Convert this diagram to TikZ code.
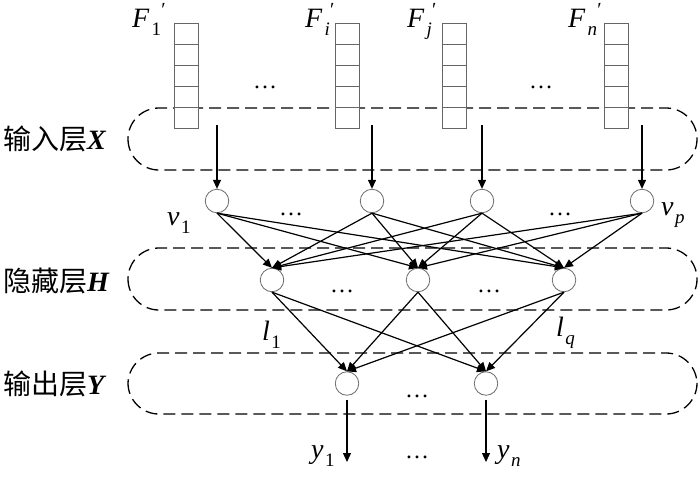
\documentclass[tikz,border=0pt]{standalone}
\usepackage{fontspec}
\setmainfont{Liberation Serif}
\newfontfamily\cjk{Noto Sans CJK SC}
\usetikzlibrary{arrows.meta}
\newcommand{\mylbl}[2]{\textit{#1}\hspace{1.5pt}\raisebox{-8pt}{\fontsize{19}{19}\selectfont #2}}
\newcommand{\myfp}[1]{\textit{F}\hspace{2pt}\raisebox{-8pt}{\fontsize{19}{19}\selectfont #1}\hspace{-1pt}\raisebox{11pt}{\fontsize{20}{20}\selectfont\textit{′}}}
\begin{document}
\begin{tikzpicture}[x=1pt,y=-1pt,
  neuron/.style={circle,draw=gray!85!black,line width=0.8pt,fill=white,minimum size=23.5pt,inner sep=0pt},
  conn/.style={line width=1.2pt,-{Triangle[length=9pt,width=8pt]}},
  layerbox/.style={draw=black,line width=1.3pt,dash pattern=on 12pt off 6pt,rounded corners=31pt},
  cell/.style={draw=gray!80!black,line width=0.8pt,fill=white},
  lab/.style={font=\fontsize{28}{32}\selectfont,inner sep=0pt},
  dotlab/.style={font=\fontsize{24}{28}\selectfont,inner sep=0pt,anchor=base}
  ]
\useasboundingbox (0,0) rectangle (700,477);

% layer boxes
\draw[layerbox] (128,108) rectangle (697,170);
\draw[layerbox] (128,248) rectangle (697,310);
\draw[layerbox] (128,353) rectangle (697,414);

% feature columns
\foreach \cx in {174,335,442,604}{
  \foreach \k in {0,...,4}{
    \draw[cell] (\cx,23+21*\k) rectangle (\cx+24,23+21*\k+21);
  }
}

% feature labels
\node[lab,anchor=base west] (f1) at (132,27) {\myfp{1}};
\node[lab,anchor=base west] (fi) at (305,27) {\myfp{\textit{i}}};
\node[lab,anchor=base west] (fj) at (407,27) {\myfp{\textit{j}}};
\node[lab,anchor=base west] (fn) at (568,27) {\myfp{\textit{n}}};

% layer labels
\node[lab,anchor=west] (lx) at (3,139) {{\cjk 输入层}\textbf{\textit{X}}};
\node[lab,anchor=west] (lh) at (3,281) {{\cjk 隐藏层}\textbf{\textit{H}}};
\node[lab,anchor=west] (ly) at (3,384) {{\cjk 输出层}\textbf{\textit{Y}}};

% dots
\node[dotlab] (d1) at (265,88) {…};
\node[dotlab] (d2) at (541,88) {…};
\node[dotlab] (d3) at (291,215) {…};
\node[dotlab] (d4) at (560,215) {…};
\node[dotlab] (d5) at (342,292) {…};
\node[dotlab] (d6) at (489,292) {…};
\node[dotlab] (d7) at (417,397) {…};
\node[dotlab] (d8) at (417,458) {…};

% neurons
\node[neuron] (v1) at (217,201) {};
\node[neuron] (v2) at (372,201) {};
\node[neuron] (v3) at (482,201) {};
\node[neuron] (v4) at (642,201) {};
\node[neuron] (h1) at (272,280) {};
\node[neuron] (h2) at (418,280) {};
\node[neuron] (h3) at (564,280) {};
\node[neuron] (o1) at (347,383.5) {};
\node[neuron] (o2) at (486,383.5) {};

% neuron labels
\node[lab,anchor=base west] (lv1) at (167,225) {\mylbl{v}{1}};
\node[lab,anchor=base west] (lvp) at (661,215) {\mylbl{v}{\textit{p}}};
\node[lab,anchor=base west] (ll1) at (262,340) {\mylbl{l}{1}};
\node[lab,anchor=base west] (llq) at (556,336) {\mylbl{l}{\textit{q}}};
\node[lab,anchor=base west] (ly1) at (311,458) {\mylbl{y}{1}};
\node[lab,anchor=base west] (lyn) at (497,458) {\mylbl{y}{\textit{n}}};

% input arrows
\coordinate (a1) at (217,125);
\coordinate (a2) at (372,125);
\coordinate (a3) at (482,125);
\coordinate (a4) at (642,125);
\foreach \i in {1,...,4}{ \draw[conn] (a\i) -- (v\i.north); }

% input -> hidden
\foreach \i in {1,...,4}{
  \foreach \j in {1,...,3}{
    \draw[conn] (v\i.south) -- (h\j.north);
  }
}
% hidden -> output
\foreach \j in {1,...,3}{
  \foreach \k in {1,2}{
    \draw[conn] (h\j.south) -- (o\k.north);
  }
}
% output arrows
\coordinate (b1) at (347,462);
\coordinate (b2) at (486,462);
\draw[conn,shorten <=4pt] (o1.south) -- (b1);
\draw[conn,shorten <=4pt] (o2.south) -- (b2);
\end{tikzpicture}
\end{document}
